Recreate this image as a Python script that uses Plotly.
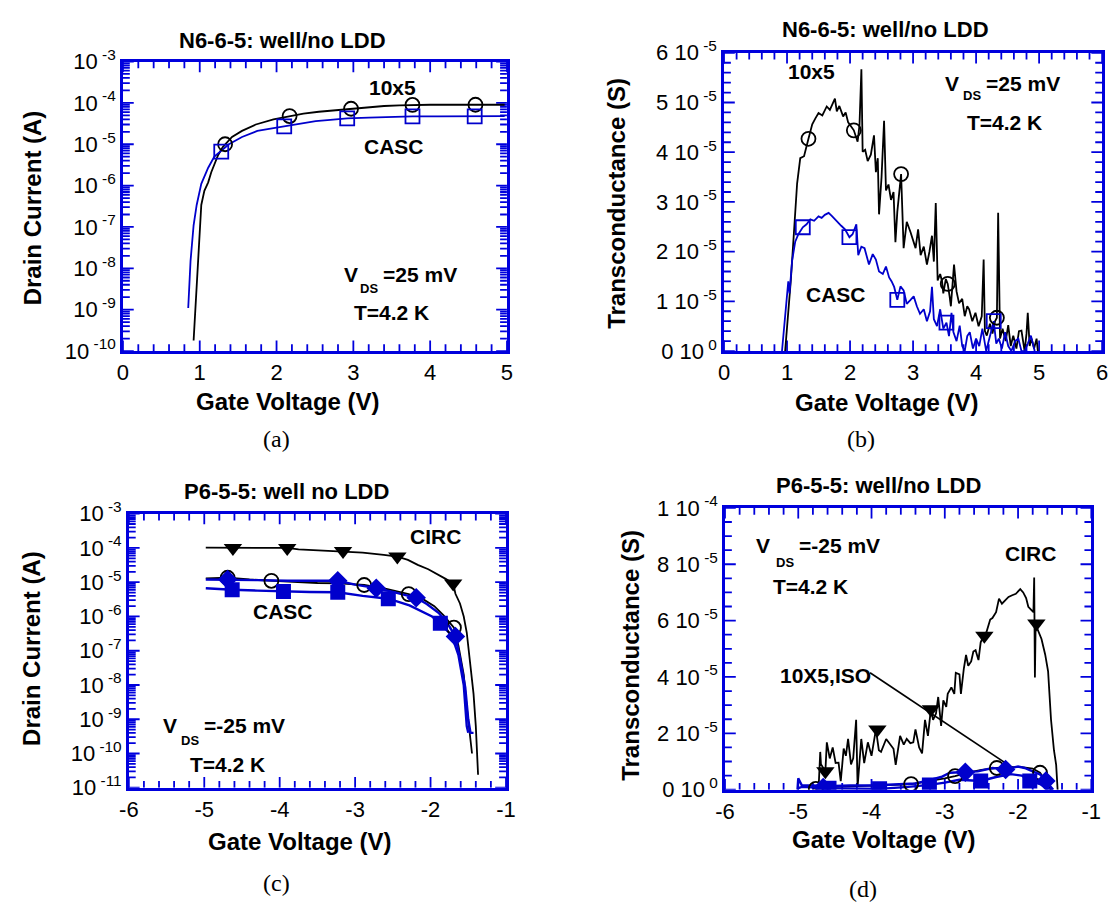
import plotly.graph_objects as go

W, H = 1119, 915

# ---------------- (a) N6-6-5 drain current vs gate voltage ----------------
A_VG_10X5 = [0.92, 0.95, 0.98, 1.02, 1.06, 1.11, 1.15, 1.19, 1.24, 1.30, 1.36, 1.42, 1.55,
             1.73, 1.96, 2.17, 2.35, 2.55, 2.75, 2.97, 3.20, 3.40, 3.60, 3.77, 4.00, 4.30,
             4.59, 4.80, 4.97]
A_ID_10X5 = [1.8e-10, 1.7e-9, 3e-8, 3.4e-7, 7.5e-7, 1.2e-6, 2.1e-6, 3.2e-6, 5.5e-6, 8.5e-6,
             1.1e-5, 1.5e-5, 2.1e-5, 3.0e-5, 4.0e-5, 4.8e-5, 5.5e-5, 6.1e-5, 6.6e-5, 7.2e-5,
             7.7e-5, 8.4e-5, 8.7e-5, 8.9e-5, 9.0e-5, 9.0e-5, 9.0e-5, 9.0e-5, 9.0e-5]
A_MK_VG_10X5 = [1.33, 2.17, 2.97, 3.77, 4.59]
A_MK_ID_10X5 = [1.0e-5, 4.8e-5, 7.2e-5, 8.9e-5, 9.0e-5]

A_VG_CASC = [0.85, 0.88, 0.92, 0.96, 1.02, 1.11, 1.19, 1.27, 1.38, 1.55, 1.75, 1.98, 2.10,
             2.30, 2.51, 2.70, 2.92, 3.20, 3.50, 3.77, 4.10, 4.58, 4.97]
A_ID_CASC = [1.1e-9, 1.5e-8, 1.1e-7, 3.4e-7, 1.1e-6, 2.7e-6, 5.0e-6, 6.6e-6, 1.0e-5, 1.5e-5,
             2.1e-5, 2.5e-5, 2.7e-5, 3.2e-5, 3.6e-5, 3.9e-5, 4.2e-5, 4.4e-5, 4.6e-5, 4.7e-5,
             4.7e-5, 4.7e-5, 4.8e-5]
A_MK_VG_CASC = [1.28, 2.10, 2.92, 3.77, 4.58]
A_MK_ID_CASC = [6.6e-6, 2.7e-5, 4.2e-5, 4.7e-5, 4.7e-5]

# ---------------- (b) N6-6-5 transconductance (units of 1e-5 S) ----------------
B_VG_10X5 = [0.97, 1.02, 1.06, 1.11, 1.16, 1.21, 1.27, 1.34, 1.40, 1.45, 1.50, 1.56, 1.63,
             1.68, 1.72, 1.76, 1.79, 1.83, 1.89, 1.93, 1.97, 2.02, 2.06, 2.12, 2.15, 2.18,
             2.20, 2.24, 2.28, 2.33, 2.38, 2.41, 2.44, 2.46, 2.50, 2.54, 2.57, 2.61, 2.65,
             2.69, 2.72, 2.75, 2.78, 2.81, 2.85, 2.90, 2.96, 3.00, 3.04, 3.08, 3.12, 3.17,
             3.22, 3.26, 3.30, 3.33, 3.36, 3.39, 3.43, 3.46, 3.48, 3.52, 3.55, 3.58, 3.60,
             3.65, 3.69, 3.73, 3.78, 3.82, 3.86, 3.89, 3.94, 3.99, 4.04, 4.09, 4.12, 4.14,
             4.17, 4.22, 4.26, 4.30, 4.33, 4.35, 4.38, 4.42, 4.47, 4.51, 4.55, 4.59, 4.64,
             4.68, 4.72, 4.77, 4.80, 4.82, 4.85, 4.88, 4.92, 4.96, 4.98]
B_GM_10X5 = [0.0, 0.7, 1.42, 2.39, 3.37, 3.88, 3.92, 4.27, 4.56, 4.68, 4.79, 4.74, 4.92,
             4.85, 4.98, 5.08, 4.82, 4.93, 4.72, 4.80, 4.60, 4.52, 4.44, 4.21, 4.55, 5.67,
             4.01, 4.05, 3.82, 3.95, 4.34, 3.60, 3.88, 2.75, 3.50, 4.63, 3.23, 3.35, 3.04,
             3.20, 2.19, 2.80, 3.17, 3.56, 2.07, 2.60, 2.39, 2.25, 2.07, 2.45, 1.93, 2.10,
             1.74, 2.00, 2.32, 1.80, 2.98, 1.42, 1.55, 1.40, 1.16, 1.45, 1.35, 1.10, 0.90,
             1.74, 1.20, 0.96, 1.05, 0.70, 0.90, 0.84, 0.60, 0.77, 0.50, 0.70, 1.84, 0.40,
             0.31, 0.55, 0.35, 0.60, 0.67, 2.78, 0.25, 0.45, 0.20, 0.52, 0.10, 0.31, 0.05,
             0.40, 0.41, 0.0, 0.35, 0.77, 0.10, 0.25, 0.05, 0.25, 0.0]
B_MK_VG_10X5 = [1.34, 2.06, 2.81, 3.55, 4.33]
B_MK_GM_10X5 = [4.27, 4.44, 3.56, 1.35, 0.67]

B_VG_CASC = [0.92, 0.96, 1.00, 1.02, 1.04, 1.08, 1.13, 1.18, 1.25, 1.31, 1.37, 1.43, 1.50,
             1.55, 1.60, 1.66, 1.71, 1.76, 1.81, 1.86, 1.92, 1.99, 2.04, 2.10, 2.13, 2.18,
             2.23, 2.27, 2.30, 2.36, 2.41, 2.46, 2.52, 2.57, 2.62, 2.66, 2.70, 2.75, 2.80,
             2.85, 2.90, 2.96, 3.01, 3.06, 3.11, 3.17, 3.22, 3.27, 3.30, 3.33, 3.38, 3.43,
             3.48, 3.53, 3.57, 3.61, 3.64, 3.69, 3.74, 3.78, 3.82, 3.86, 3.90, 3.95, 4.00,
             4.05, 4.10, 4.16, 4.22, 4.28, 4.32, 4.36, 4.41, 4.46, 4.51, 4.56, 4.62, 4.67,
             4.72, 4.77, 4.82, 4.87, 4.93]
B_GM_CASC = [0.0, 0.6, 1.22, 1.40, 1.16, 1.81, 2.20, 2.35, 2.49, 2.55, 2.65, 2.62, 2.71,
             2.68, 2.74, 2.78, 2.72, 2.65, 2.60, 2.52, 2.45, 2.29, 2.35, 2.55, 1.93, 2.10,
             2.07, 1.90, 1.74, 1.95, 1.84, 1.60, 1.55, 1.70, 1.48, 1.40, 1.29, 1.03, 1.30,
             1.22, 0.95, 1.03, 1.10, 0.90, 0.75, 0.84, 0.60, 0.80, 1.29, 0.64, 0.50, 0.84,
             0.45, 0.57, 0.30, 0.77, 0.38, 0.20, 0.51, 0.10, 0.0, 0.30, 0.38, 0.05, 0.25,
             0.10, 0.45, 0.0, 0.30, 0.60, 0.15, 0.25, 0.05, 0.38, 0.10, 0.0, 0.20, 0.25,
             0.0, 0.0, 0.15, 0.31, 0.0]
B_MK_VG_CASC = [1.25, 1.99, 2.75, 3.53, 4.28]
B_MK_GM_CASC = [2.49, 2.29, 1.03, 0.57, 0.60]

# ---------------- (c) P6-5-5 drain current vs gate voltage ----------------
C_VG_CIRC = [-4.98, -4.62, -4.30, -3.90, -3.75, -3.50, -3.16, -2.90, -2.62, -2.44, -2.30,
             -2.17, -2.03, -1.90, -1.80, -1.70, -1.67, -1.61, -1.56, -1.52, -1.48, -1.43,
             -1.40, -1.37]
C_ID_CIRC = [1.02e-4, 1.0e-4, 1.0e-4, 1.0e-4, 9.1e-5, 8.6e-5, 8.1e-5, 7.3e-5, 6.3e-5, 5.6e-5,
             4.5e-5, 3.2e-5, 2.4e-5, 1.7e-5, 1.25e-5, 9.1e-6, 4.6e-6, 2.4e-6, 1.0e-6, 3.4e-7,
             4.8e-8, 5.5e-9, 6.3e-10, 2.4e-11]
C_MK_VG_CIRC = [-4.62, -3.90, -3.16, -2.44, -1.70]
C_MK_ID_CIRC = [1.0e-4, 1.0e-4, 8.1e-5, 5.6e-5, 9.1e-6]

C_VG_10X5 = [-4.98, -4.69, -4.40, -4.11, -3.80, -3.50, -3.20, -2.88, -2.60, -2.40, -2.29,
             -2.10, -1.95, -1.83, -1.75, -1.69, -1.63, -1.56, -1.52, -1.48, -1.45]
C_ID_10X5 = [1.3e-5, 1.35e-5, 1.2e-5, 1.1e-5, 1.0e-5, 9.5e-6, 9.2e-6, 8.3e-6, 6.5e-6, 5.2e-6,
             4.5e-6, 3.2e-6, 2.0e-6, 1.1e-6, 7e-7, 4.7e-7, 1.4e-7, 2e-8, 2.3e-9, 4e-10, 1e-10]
C_MK_VG_10X5 = [-4.69, -4.11, -2.88, -2.29, -1.69]
C_MK_ID_10X5 = [1.35e-5, 1.1e-5, 8.3e-6, 4.5e-6, 4.7e-7]

C_VG_ISO = [-4.98, -4.69, -4.30, -3.90, -3.50, -3.23, -3.00, -2.72, -2.50, -2.35, -2.19,
            -2.05, -1.89, -1.77, -1.67, -1.61, -1.54, -1.50, -1.47, -1.43]
C_ID_ISO = [1.2e-5, 1.2e-5, 1.15e-5, 1.1e-5, 1.1e-5, 1.1e-5, 8.5e-6, 6.7e-6, 5.2e-6, 4.4e-6,
            3.5e-6, 2.3e-6, 1.26e-6, 6e-7, 2.6e-7, 6e-8, 8.5e-9, 9.8e-10, 4e-10, 4e-10]
C_MK_VG_ISO = [-4.69, -3.23, -2.72, -2.19, -1.67]
C_MK_ID_ISO = [1.2e-5, 1.1e-5, 6.7e-6, 3.5e-6, 2.6e-7]

C_VG_CASC = [-4.98, -4.63, -4.30, -3.95, -3.60, -3.23, -2.90, -2.56, -2.28, -1.98, -1.87,
             -1.72, -1.63, -1.56, -1.52, -1.50]
C_ID_CASC = [6.7e-6, 6.0e-6, 5.7e-6, 5.4e-6, 5.2e-6, 5.1e-6, 4.0e-6, 3.3e-6, 2.1e-6, 1.0e-6,
             6.3e-7, 2.8e-7, 7.4e-8, 1e-8, 6.3e-10, 4e-10]
C_MK_VG_CASC = [-4.63, -3.95, -3.23, -2.56, -1.87]
C_MK_ID_CASC = [6.0e-6, 5.4e-6, 5.1e-6, 3.3e-6, 6.3e-7]

# ---------------- (d) P6-5-5 transconductance (units of 1e-5 S) ----------------
D_VG_CIRC = [-4.72, -4.70, -4.69, -4.66, -4.63, -4.61, -4.57, -4.53, -4.49, -4.45, -4.42,
             -4.38, -4.35, -4.32, -4.28, -4.25, -4.21, -4.19, -4.14, -4.10, -4.05, -4.00,
             -3.94, -3.90, -3.87, -3.80, -3.74, -3.70, -3.67, -3.61, -3.56, -3.52, -3.47,
             -3.43, -3.40, -3.35, -3.31, -3.27, -3.23, -3.19, -3.16, -3.12, -3.09, -3.05,
             -3.02, -2.98, -2.96, -2.91, -2.87, -2.85, -2.80, -2.78, -2.74, -2.71, -2.68,
             -2.64, -2.61, -2.58, -2.54, -2.51, -2.47, -2.43, -2.38, -2.35, -2.30, -2.26,
             -2.22, -2.17, -2.13, -2.08, -2.03, -1.97, -1.93, -1.89, -1.86, -1.82, -1.79,
             -1.78, -1.77, -1.76, -1.72, -1.68, -1.63, -1.59, -1.55, -1.51, -1.48, -1.46]
D_GM_CIRC = [0.19, 1.34, 0.90, 0.77, 0.65, 1.68, 1.11, 1.50, 0.95, 0.96, 0.30,
             1.46, 1.20, 1.80, 0.90, 1.11, 2.48, 0.10, 1.80, 0.94, 1.68, 1.20,
             2.14, 1.40, 1.34, 1.80, 1.57, 1.45, 0.88, 1.91, 1.60, 1.80, 1.65,
             1.68, 2.14, 1.50, 1.29, 2.48, 1.91, 2.85, 2.48, 2.70, 3.29, 2.26,
             3.17, 2.94, 3.40, 3.63, 3.40, 4.15, 4.09, 3.40, 4.30, 4.78, 4.40,
             4.55, 4.90, 4.95, 4.60, 5.23, 5.46, 5.60, 6.04, 6.09, 6.30, 6.78,
             6.60, 6.75, 6.84, 6.90, 6.95, 7.12, 7.00, 6.80, 6.49, 6.38, 6.30,
             7.53, 3.98, 5.86, 5.60, 5.35, 4.80, 4.20, 2.48, 1.40, 0.88, 0.0]
D_MK_VG_CIRC = [-4.63, -3.92, -3.19, -2.46, -1.75]
D_MK_GM_CIRC = [0.65, 2.14, 2.85, 5.46, 5.90]

D_VG_10X5 = [-4.80, -4.76, -4.50, -4.20, -3.90, -3.60, -3.46, -3.20, -3.00, -2.86, -2.70,
             -2.50, -2.29, -2.10, -1.95, -1.80, -1.70, -1.62, -1.55]
D_GM_10X5 = [0.05, 0.03, 0.10, 0.12, 0.15, 0.18, 0.20, 0.30, 0.40, 0.48, 0.60, 0.70, 0.77,
             0.80, 0.80, 0.75, 0.60, 0.30, 0.0]
D_MK_VG_10X5 = [-4.76, -3.46, -2.86, -2.29, -1.70]
D_MK_GM_10X5 = [0.03, 0.20, 0.48, 0.77, 0.60]

D_VG_ISO = [-5.01, -5.00, -4.95, -4.80, -4.60, -4.30, -4.00, -3.70, -3.40, -3.25, -3.05,
            -2.93, -2.72, -2.55, -2.35, -2.17, -2.00, -1.91, -1.80, -1.70, -1.62, -1.55, -1.52]
D_GM_ISO = [0.0, 0.40, 0.15, 0.15, 0.12, 0.15, 0.15, 0.18, 0.22, 0.31, 0.45, 0.60, 0.62,
            0.65, 0.77, 0.72, 0.82, 0.77, 0.65, 0.54, 0.31, 0.10, 0.0]
D_MK_VG_ISO = [-4.66, -2.72, -2.17, -1.62]
D_MK_GM_ISO = [0.08, 0.62, 0.72, 0.31]

D_VG_CASC = [-5.01, -4.95, -4.58, -4.30, -3.89, -3.50, -3.21, -3.00, -2.80, -2.51, -2.30,
             -2.10, -1.95, -1.84, -1.70, -1.60, -1.53]
D_GM_CASC = [0.05, 0.10, 0.05, 0.05, 0.03, 0.10, 0.17, 0.25, 0.35, 0.31, 0.45, 0.55, 0.50,
             0.31, 0.20, 0.05, 0.0]
D_MK_VG_CASC = [-4.58, -3.89, -3.21, -2.51, -1.84]
D_MK_GM_CASC = [0.05, 0.03, 0.17, 0.31, 0.31]

# leader line from the "10X5,ISO" label down to the small curves
D_LEADER_VG = [-4.02, -2.07]
D_LEADER_GM = [4.15, 0.77]

# tick positions and labels
VG_TICKS_N = [0, 1, 2, 3, 4, 5, 6]
VG_LABELS_N = ["0", "1", "2", "3", "4", "5", "6"]
VG_TICKS_P = [-6, -5, -4, -3, -2, -1]
VG_LABELS_P = ["-6", "-5", "-4", "-3", "-2", "-1"]
LOG_TICKS_A = [-10, -9, -8, -7, -6, -5, -4, -3]
LOG_TICKS_C = [-11, -10, -9, -8, -7, -6, -5, -4, -3]
GM_TICKS_B = [0, 1, 2, 3, 4, 5, 6]
GM_TICKS_D = [0, 2, 4, 6, 8, 10]
GM_LABELS_B = ["0 10<sup> 0</sup>", "1 10<sup> -5</sup>", "2 10<sup> -5</sup>", "3 10<sup> -5</sup>",
               "4 10<sup> -5</sup>", "5 10<sup> -5</sup>", "6 10<sup> -5</sup>"]
GM_LABELS_D = ["0 10<sup> 0</sup>", "2 10<sup> -5</sup>", "4 10<sup> -5</sup>", "6 10<sup> -5</sup>",
               "8 10<sup> -5</sup>", "1 10<sup> -4</sup>"]

E5 = 1e-5
BLACK = "#000000"
BLUE = "#0000CC"
AXBLUE = "#0000DD"
SANS = "Liberation Sans, Arial, sans-serif"
SERIF = "Liberation Serif, Times New Roman, serif"
MAJOR_LEN, MINOR_LEN = 11, 7
TICK_FONT = 22
LABEL_FONT = 21

# plot areas in pixels: left, right, top, bottom
BOX_A = (115, 506, 47, 346)
BOX_B = (727, 1112, 38, 346)
BOX_C = (121, 505, 514, 797)
BOX_D = (728, 1101, 508, 799)


def pxx(x):
    return x / W


def pxy(y):
    return 1 - y / H


def scaled(vals):
    return [v * E5 for v in vals]


def steps(lo, hi, step):
    n = int(round((hi - lo) / step))
    return [round(lo + i * step, 6) for i in range(n + 1)]


def base_axis(box, anchor, horizontal):
    l, r, t, b = box
    dom = [pxx(l), pxx(r)] if horizontal else [pxy(b), pxy(t)]
    return dict(
        domain=dom, anchor=anchor, showline=True, linecolor=AXBLUE, linewidth=2.5,
        mirror=True, ticks="", showgrid=False, zeroline=False,
        tickfont=dict(family=SANS, size=TICK_FONT, color="black"),
    )


fig = go.Figure()


def tick_marks(xa, ya, box, xrng, yrng, ylog, x_major, x_minor, y_major, y_minor):
    """Inward tick marks on all four sides of a panel, drawn in data space."""
    l, r, t, b = box
    wpx, hpx = r - l, b - t
    y_lo, y_hi = yrng

    def y_at(frac):
        v = y_lo + frac * (y_hi - y_lo)
        return 10 ** v if ylog else v

    def x_at(frac):
        return xrng[0] + frac * (xrng[1] - xrng[0])

    xs, ys = [], []
    for vals, ln in ((x_major, MAJOR_LEN), (x_minor, MINOR_LEN)):
        f = ln / hpx
        for v in vals:
            xs += [v, v, None, v, v, None]
            ys += [y_at(0), y_at(f), None, y_at(1), y_at(1 - f), None]
    for vals, ln in ((y_major, MAJOR_LEN), (y_minor, MINOR_LEN)):
        f = ln / wpx
        for v in vals:
            xs += [x_at(0), x_at(f), None, x_at(1), x_at(1 - f), None]
            ys += [v, v, None, v, v, None]
    fig.add_trace(go.Scatter(x=xs, y=ys, mode="lines", xaxis=xa, yaxis=ya,
                             line=dict(color=AXBLUE, width=1.8), connectgaps=False,
                             showlegend=False, hoverinfo="skip"))


def line(x, y, color, xa, ya, width=1.8):
    fig.add_trace(go.Scatter(x=x, y=y, mode="lines", xaxis=xa, yaxis=ya,
                             line=dict(color=color, width=width), showlegend=False,
                             hoverinfo="skip"))


def marks(x, y, symbol, color, size, xa, ya, open_=False):
    mk = dict(symbol=symbol, size=size, color=color)
    if open_:
        mk["line"] = dict(color=color, width=1.8)
    fig.add_trace(go.Scatter(x=x, y=y, mode="markers", xaxis=xa, yaxis=ya, marker=mk,
                             showlegend=False, hoverinfo="skip"))


def log_minor(exps):
    return [m * 10.0 ** e for e in exps[:-1] for m in range(2, 10)]


def lin_minor(lo, hi, step, majors):
    return [v for v in steps(lo, hi, step) if all(abs(v - m) > 1e-9 for m in majors)]


# tick marks (drawn first so curves sit above them)
tick_marks("x", "y", BOX_A, [0, 5], [-10, -3], True,
           VG_TICKS_N[:6], lin_minor(0, 5, 0.2, VG_TICKS_N),
           [10.0 ** e for e in LOG_TICKS_A], log_minor(LOG_TICKS_A))
tick_marks("x2", "y2", BOX_B, [0, 6], [0, 6 * E5], False,
           VG_TICKS_N, lin_minor(0, 6, 0.2, VG_TICKS_N),
           scaled(GM_TICKS_B), scaled(lin_minor(0, 6, 0.2, GM_TICKS_B)))
tick_marks("x3", "y3", BOX_C, [-6, -1], [-11, -3], True,
           VG_TICKS_P, lin_minor(-6, -1, 0.2, VG_TICKS_P),
           [10.0 ** e for e in LOG_TICKS_C], log_minor(LOG_TICKS_C))
tick_marks("x4", "y4", BOX_D, [-6, -1], [0, 10 * E5], False,
           VG_TICKS_P, lin_minor(-6, -1, 0.2, VG_TICKS_P),
           scaled(GM_TICKS_D), scaled(lin_minor(0, 10, 0.5, GM_TICKS_D)))

# (a)
line(A_VG_10X5, A_ID_10X5, BLACK, "x", "y")
line(A_VG_CASC, A_ID_CASC, BLUE, "x", "y")
marks(A_MK_VG_10X5, A_MK_ID_10X5, "circle-open", BLACK, 14, "x", "y", True)
marks(A_MK_VG_CASC, A_MK_ID_CASC, "square-open", BLUE, 14, "x", "y", True)

# (b)
line(B_VG_10X5, scaled(B_GM_10X5), BLACK, "x2", "y2")
line(B_VG_CASC, scaled(B_GM_CASC), BLUE, "x2", "y2")
marks(B_MK_VG_10X5, scaled(B_MK_GM_10X5), "circle-open", BLACK, 14, "x2", "y2", True)
marks(B_MK_VG_CASC, scaled(B_MK_GM_CASC), "square-open", BLUE, 14, "x2", "y2", True)

# (c)
line(C_VG_CIRC, C_ID_CIRC, BLACK, "x3", "y3")
line(C_VG_10X5, C_ID_10X5, BLACK, "x3", "y3")
line(C_VG_ISO, C_ID_ISO, BLUE, "x3", "y3", 2.4)
line(C_VG_CASC, C_ID_CASC, BLUE, "x3", "y3", 2.4)
marks(C_MK_VG_CIRC, C_MK_ID_CIRC, "triangle-down", BLACK, 16, "x3", "y3")
marks(C_MK_VG_10X5, C_MK_ID_10X5, "circle-open", BLACK, 14, "x3", "y3", True)
marks(C_MK_VG_ISO, C_MK_ID_ISO, "diamond", BLUE, 15, "x3", "y3")
marks(C_MK_VG_CASC, C_MK_ID_CASC, "square", BLUE, 15, "x3", "y3")

# (d)
line(D_VG_CIRC, scaled(D_GM_CIRC), BLACK, "x4", "y4")
line(D_VG_10X5, scaled(D_GM_10X5), BLACK, "x4", "y4")
line(D_VG_ISO, scaled(D_GM_ISO), BLUE, "x4", "y4", 2.4)
line(D_VG_CASC, scaled(D_GM_CASC), BLUE, "x4", "y4", 2.4)
line(D_LEADER_VG, scaled(D_LEADER_GM), BLACK, "x4", "y4", 1.6)
marks(D_MK_VG_CIRC, scaled(D_MK_GM_CIRC), "triangle-down", BLACK, 16, "x4", "y4")
marks(D_MK_VG_10X5, scaled(D_MK_GM_10X5), "circle-open", BLACK, 14, "x4", "y4", True)
marks(D_MK_VG_ISO, scaled(D_MK_GM_ISO), "diamond", BLUE, 15, "x4", "y4")
marks(D_MK_VG_CASC, scaled(D_MK_GM_CASC), "square", BLUE, 15, "x4", "y4")


def x_axis(box, anchor, ticks, labels):
    ax = base_axis(box, anchor, True)
    ax.update(range=[ticks[0], ticks[-1]], tickmode="array", tickvals=ticks, ticktext=labels)
    return ax


def log_axis(box, anchor, exps):
    ax = base_axis(box, anchor, False)
    ax.update(type="log", range=[exps[0], exps[-1]], tickmode="array",
              tickvals=[10.0 ** e for e in exps],
              ticktext=["10<sup> %d</sup>" % e for e in exps])
    return ax


def gm_axis(box, anchor, ticks, labels):
    ax = base_axis(box, anchor, False)
    ax.update(range=[0, ticks[-1] * E5], tickmode="array", tickvals=scaled(ticks),
              ticktext=labels)
    return ax


fig.update_layout(
    width=W, height=H, margin=dict(l=0, r=0, t=0, b=0),
    paper_bgcolor="white", plot_bgcolor="white", showlegend=False,
    xaxis=x_axis(BOX_A, "y", VG_TICKS_N[:6], VG_LABELS_N[:6]),
    yaxis=log_axis(BOX_A, "x", LOG_TICKS_A),
    xaxis2=x_axis(BOX_B, "y2", VG_TICKS_N, VG_LABELS_N),
    yaxis2=gm_axis(BOX_B, "x2", GM_TICKS_B, GM_LABELS_B),
    xaxis3=x_axis(BOX_C, "y3", VG_TICKS_P, VG_LABELS_P),
    yaxis3=log_axis(BOX_C, "x3", LOG_TICKS_C),
    xaxis4=x_axis(BOX_D, "y4", VG_TICKS_P, VG_LABELS_P),
    yaxis4=gm_axis(BOX_D, "x4", GM_TICKS_D, GM_LABELS_D),
)

ann = []


def text(x, y, s, size=LABEL_FONT, bold=True, anchor="center", angle=0, family=SANS):
    ann.append(dict(x=pxx(x), y=pxy(y), xref="paper", yref="paper", text=s,
                    showarrow=False, xanchor=anchor, yanchor="middle", textangle=angle,
                    font=dict(family=family, size=size, color="black",
                              weight="bold" if bold else "normal")))


# panel titles
text(277, 25, "N6-6-5: well/no LDD", 22)
text(891, 14, "N6-6-5: well/no LDD", 22)
text(282, 491, "P6-5-5: well no LDD", 22)
text(884, 485, "P6-5-5: well/no LDD", 22)

# axis titles
text(23, 198, "Drain Current (A)", 24, angle=-90)
text(283, 398, "Gate Voltage (V)", 24)
text(618, 193, "Transconductance (S)", 24, angle=-90)
text(893, 399, "Gate Voltage (V)", 24)
text(22, 653, "Drain Current (A)", 24, angle=-90)
text(295, 853, "Gate Voltage (V)", 24)
text(631, 660, "Transconductance (S)", 24, angle=-90)
text(890, 850, "Gate Voltage (V)", 24)

# captions
text(271, 437, "(a)", 24, bold=False, family=SERIF)
text(866, 437, "(b)", 24, bold=False, family=SERIF)
text(271, 895, "(c)", 24, bold=False, family=SERIF)
text(869, 902, "(d)", 24, bold=False, family=SERIF)

# (a) labels
text(389, 74, "10x5")
text(391, 135, "CASC")
text(347, 267, "V")
text(366, 281, "DS", 13)
text(378, 267, "=25 mV", anchor="left")
text(388, 306, "T=4.2 K")

# (b) labels
text(816, 57, "10x5")
text(841, 288, "CASC")
text(959, 70, "V")
text(979, 82, "DS", 13)
text(992, 70, "=25 mV", anchor="left")
text(1013, 110, "T=4.2 K")

# (c) labels
text(433, 538, "CIRC")
text(278, 615, "CASC")
text(163, 733, "V")
text(183, 748, "DS", 13)
text(195, 733, "=-25 mV", anchor="left")
text(221, 773, "T=4.2 K")

# (d) labels
text(767, 547, "V")
text(789, 564, "DS", 13)
text(801, 547, "=-25 mV", anchor="left")
text(815, 589, "T=4.2 K")
text(1039, 555, "CIRC")
text(830, 681, "10X5,ISO")

fig.update_layout(annotations=ann)
fig.write_html("out.html")
